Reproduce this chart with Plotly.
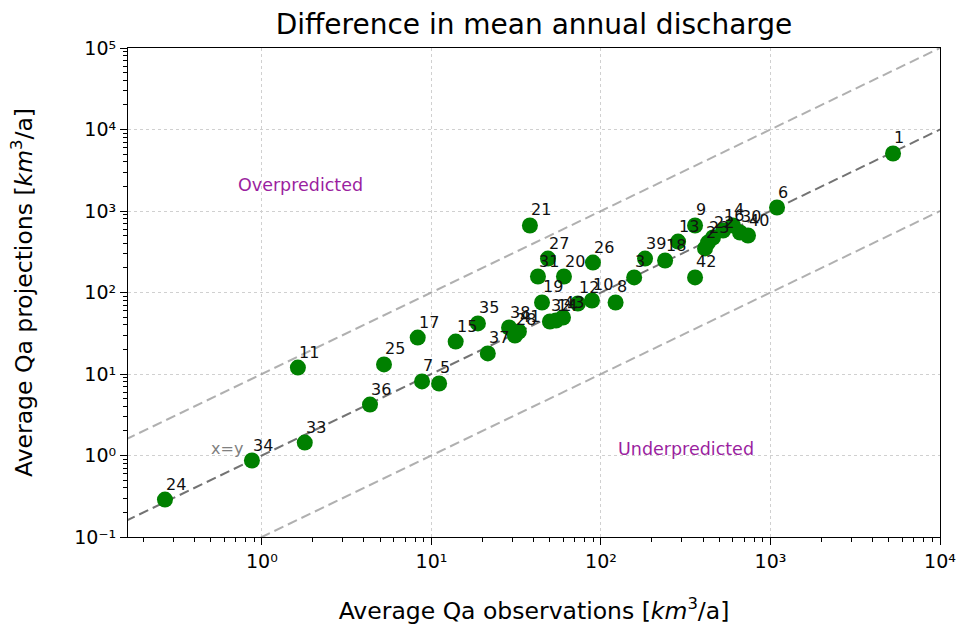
import numpy as np
import plotly.graph_objects as go

# ---- data ----
labels = ["1", "2", "3", "4", "5", "6", "7", "8", "9", "10",
          "11", "12", "13", "14", "15", "16", "17", "18", "19", "20",
          "21", "22", "23", "24", "25", "26", "27", "28", "30", "31",
          "32", "33", "34", "35", "36", "37", "38", "39", "40", "41",
          "42", "43"]
qa_obs = [5284, 411, 157, 601, 11.1, 1093, 8.8, 122, 359, 88.5,
          1.63, 73.1, 285, 54.3, 13.9, 525, 8.3, 239, 44.9, 60.5,
          38.1, 458, 428, 0.268, 5.25, 89.7, 48.7, 31.1, 661, 42.5,
          50.0, 1.79, 0.873, 18.8, 4.34, 21.5, 28.7, 182, 737, 32.8,
          359, 59.7]
qa_proj = [5080, 347, 153, 664, 7.65, 1104, 8.1, 75.4, 664, 79.8,
           12.0, 73.3, 422, 45.3, 25.0, 576, 28.0, 247, 75.4, 157,
           664, 473, 410, 0.288, 13.1, 233, 261, 29.7, 545, 157,
           44.1, 1.44, 0.868, 41.7, 4.22, 17.9, 37.2, 261, 500, 33.2,
           153, 49.3]

ref_x = [0.01, 1e5]            # extent of reference lines
ref_factors = [1, 10, 0.1]     # x=y, over, under

x_tickvals = [1, 10, 100, 1000, 10000]
x_ticktext = ["10\u2070", "10\u00b9", "10\u00b2", "10\u00b3", "10\u2074"]
y_tickvals = [0.1, 1, 10, 100, 1000, 10000, 100000]
y_ticktext = ["10\u207b\u00b9", "10\u2070", "10\u00b9", "10\u00b2", "10\u00b3", "10\u2074", "10\u2075"]

FONT = "DejaVu Sans"

fig = go.Figure()

# reference lines
line_styles = {1: dict(color="rgba(90,90,90,0.85)", width=2, dash="10px,5px"),
               10: dict(color="rgba(150,150,150,0.75)", width=2, dash="10px,5px"),
               0.1: dict(color="rgba(150,150,150,0.75)", width=2, dash="10px,5px")}
for f in ref_factors:
    fig.add_trace(go.Scatter(x=ref_x, y=[v * f for v in ref_x], mode="lines",
                             line=line_styles[f], hoverinfo="skip", showlegend=False))

# points
fig.add_trace(go.Scatter(x=qa_obs, y=qa_proj, mode="markers",
                         marker=dict(color="green", size=16, line=dict(width=0)),
                         showlegend=False))

annotations = []
for lab, xo, yp in zip(labels, qa_obs, qa_proj):
    annotations.append(dict(x=np.log10(xo), y=np.log10(yp), xref="x", yref="y",
                            text=lab, showarrow=False, xanchor="left", yanchor="bottom",
                            xshift=-1, yshift=4,
                            font=dict(family=FONT, size=16, color="#111111")))

annotations += [
    dict(x=np.log10(1.68), y=np.log10(2113), xref="x", yref="y", text="Overpredicted",
         showarrow=False, font=dict(family=FONT, size=17.5, color="#9b1fa0")),
    dict(x=np.log10(317), y=np.log10(1.19), xref="x", yref="y", text="Underpredicted",
         showarrow=False, font=dict(family=FONT, size=17.5, color="#9b1fa0")),
    dict(x=np.log10(0.62), y=np.log10(1.22), xref="x", yref="y", text="x=y",
         showarrow=False, font=dict(family=FONT, size=16, color="#808080")),
]

def minor_vals(lo, hi):
    out = []
    for e in range(lo, hi):
        for m in range(2, 10):
            out.append(m * 10.0 ** e)
    return out

axis_common = dict(type="log", showline=True, mirror=True, linecolor="black", linewidth=1.2,
                   ticks="outside", ticklen=7, tickwidth=1.2, tickcolor="black",
                   showgrid=True, gridcolor="#d0d0d0", griddash="dot", gridwidth=1,
                   zeroline=False, automargin=False,
                   tickfont=dict(family=FONT, size=19, color="black"))

fig.update_layout(
    width=960, height=625,
    margin=dict(l=128, r=20, t=48, b=88),
    paper_bgcolor="white", plot_bgcolor="white",
    title=dict(text="Difference in mean annual discharge", x=0.5, xref="paper", xanchor="center",
               y=1 - 24 / 625, yanchor="middle", font=dict(family=FONT, size=28, color="black")),
    xaxis=dict(range=[-0.79, 4.0], tickvals=x_tickvals, ticktext=x_ticktext,
               minor=dict(ticks="outside", ticklen=4, tickcolor="black", tickwidth=1,
                          tickvals=minor_vals(-1, 4), showgrid=False),
               title=dict(text="Average Qa observations [<i>km</i><sup>3</sup>/a]",
                          font=dict(family=FONT, size=23.5, color="black"), standoff=33),
               **axis_common),
    yaxis=dict(range=[-1, 5], tickvals=y_tickvals, ticktext=y_ticktext,
               minor=dict(ticks="outside", ticklen=4, tickcolor="black", tickwidth=1,
                          tickvals=minor_vals(-1, 5), showgrid=False),
               title=dict(text="Average Qa projections [<i>km</i><sup>3</sup>/a]",
                          font=dict(family=FONT, size=23.5, color="black"), standoff=35),
               **axis_common),
    annotations=annotations,
)

fig.write_html("out.html", config={"displayModeBar": False},
               post_script="document.body.style.margin='0px';document.body.style.overflow='hidden';")
